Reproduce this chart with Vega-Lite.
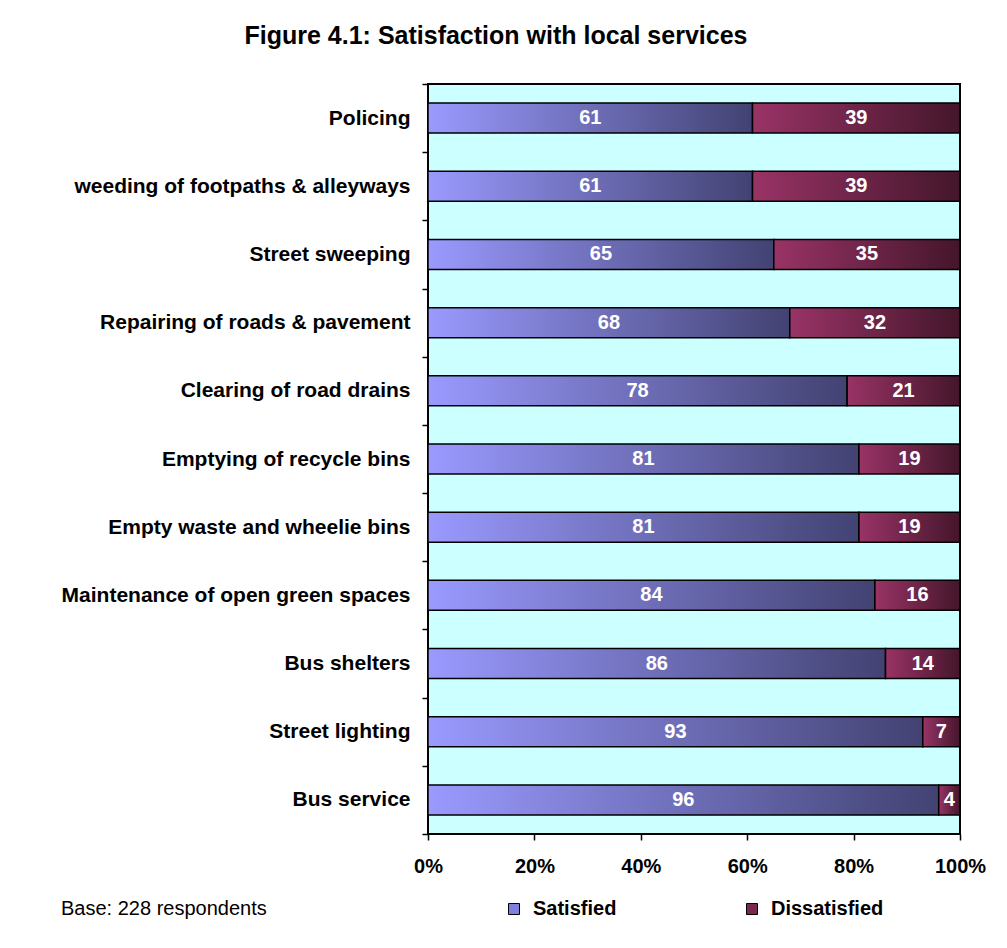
{
  "$schema": "https://vega.github.io/schema/vega-lite/v6.json",
  "width": 532,
  "height": 750,
  "autosize": "none",
  "padding": {"left": 428, "top": 84, "right": 47, "bottom": 114},
  "background": "white",
  "config": {
    "font": "Liberation Sans",
    "view": {"fill": "#CCFFFF", "stroke": "black", "strokeWidth": 2}
  },
  "title": {
    "text": "Figure 4.1: Satisfaction with local services",
    "fontSize": 25,
    "fontWeight": "bold",
    "font": "Liberation Sans",
    "anchor": "middle",
    "frame": "group",
    "dx": -198,
    "baseline": "alphabetic",
    "offset": 4,
    "color": "black"
  },
  "data": {
    "values": [
      {"service": "Policing", "status": "Satisfied", "value": 61},
      {"service": "Policing", "status": "Dissatisfied", "value": 39},
      {"service": "weeding of footpaths & alleyways", "status": "Satisfied", "value": 61},
      {"service": "weeding of footpaths & alleyways", "status": "Dissatisfied", "value": 39},
      {"service": "Street sweeping", "status": "Satisfied", "value": 65},
      {"service": "Street sweeping", "status": "Dissatisfied", "value": 35},
      {"service": "Repairing of roads & pavement", "status": "Satisfied", "value": 68},
      {"service": "Repairing of roads & pavement", "status": "Dissatisfied", "value": 32},
      {"service": "Clearing of road drains", "status": "Satisfied", "value": 78},
      {"service": "Clearing of road drains", "status": "Dissatisfied", "value": 21},
      {"service": "Emptying of recycle bins", "status": "Satisfied", "value": 81},
      {"service": "Emptying of recycle bins", "status": "Dissatisfied", "value": 19},
      {"service": "Empty waste and wheelie bins", "status": "Satisfied", "value": 81},
      {"service": "Empty waste and wheelie bins", "status": "Dissatisfied", "value": 19},
      {"service": "Maintenance of open green spaces", "status": "Satisfied", "value": 84},
      {"service": "Maintenance of open green spaces", "status": "Dissatisfied", "value": 16},
      {"service": "Bus shelters", "status": "Satisfied", "value": 86},
      {"service": "Bus shelters", "status": "Dissatisfied", "value": 14},
      {"service": "Street lighting", "status": "Satisfied", "value": 93},
      {"service": "Street lighting", "status": "Dissatisfied", "value": 7},
      {"service": "Bus service", "status": "Satisfied", "value": 96},
      {"service": "Bus service", "status": "Dissatisfied", "value": 4}
    ]
  },
  "transform": [
    {"stack": "value", "groupby": ["service"], "sort": [{"field": "status", "order": "descending"}], "offset": "normalize", "as": ["x0", "x1"]},
    {"calculate": "(datum.x0 + datum.x1) / 2", "as": "mid"}
  ],
  "encoding": {
    "y": {
      "field": "service",
      "type": "nominal",
      "sort": null,
      "scale": {"paddingInner": 0, "paddingOuter": 0},
      "axis": {
        "title": null,
        "domain": false,
        "tickBand": "extent",
        "tickSize": 6,
        "tickColor": "black",
        "tickWidth": 1.5,
        "labelFontSize": 21,
        "labelFontWeight": "bold",
        "labelColor": "black",
        "labelPadding": 12,
        "labelLimit": 420
      }
    },
    "x": {
      "field": "x0",
      "type": "quantitative",
      "scale": {"domain": [0, 1], "nice": false},
      "axis": {
        "title": null,
        "format": "%",
        "values": [0, 0.2, 0.4, 0.6, 0.8, 1],
        "grid": false,
        "domain": false,
        "tickSize": 6,
        "tickColor": "black",
        "tickWidth": 1.5,
        "labelFontSize": 20,
        "labelFontWeight": "bold",
        "labelColor": "black",
        "labelPadding": 16,
        "labelFlush": false
      }
    },
    "x2": {"field": "x1"}
  },
  "layer": [
    {
      "transform": [{"filter": "datum.status === 'Satisfied'"}],
      "mark": {
        "type": "bar",
        "height": {"band": 0.44},
        "stroke": "black",
        "strokeWidth": 1.5,
        "fill": {"gradient": "linear", "x1": 0, "y1": 0, "x2": 1, "y2": 0, "stops": [{"offset": 0, "color": "#9A9AFF"}, {"offset": 1, "color": "#424272"}]}
      }
    },
    {
      "transform": [{"filter": "datum.status === 'Dissatisfied'"}],
      "mark": {
        "type": "bar",
        "height": {"band": 0.44},
        "stroke": "black",
        "strokeWidth": 1.5,
        "fill": {"gradient": "linear", "x1": 0, "y1": 0, "x2": 1, "y2": 0, "stops": [{"offset": 0, "color": "#993366"}, {"offset": 1, "color": "#44162B"}]}
      }
    },
    {
      "mark": {"type": "bar", "height": {"band": 0.44}, "opacity": 0},
      "encoding": {
        "fill": {
          "field": "status",
          "type": "nominal",
          "scale": {"domain": ["Satisfied", "Dissatisfied"], "range": ["#7F7FE0", "#7A2850"]},
          "legend": {
            "orient": "none",
            "legendX": -367,
            "legendY": 815,
            "direction": "horizontal",
            "title": "Base: 228 respondents",
            "titleOrient": "left",
            "titleFontSize": 20,
            "titleFontWeight": "normal",
            "titleColor": "black",
            "titlePadding": 237,
            "titleLimit": 400,
            "symbolType": "square",
            "symbolSize": 121,
            "symbolOpacity": 1,
            "symbolStrokeColor": "black",
            "symbolStrokeWidth": 1,
            "labelFontSize": 20,
            "labelFontWeight": "bold",
            "labelColor": "black",
            "labelOffset": 9,
            "labelLimit": 300,
            "columnPadding": 125
          }
        }
      }
    },
    {
      "mark": {"type": "text", "color": "white", "fontWeight": "bold", "fontSize": 20, "baseline": "middle"},
      "encoding": {
        "x": {"field": "mid", "type": "quantitative"},
        "x2": null,
        "text": {"field": "value", "type": "quantitative"}
      }
    }
  ]
}
